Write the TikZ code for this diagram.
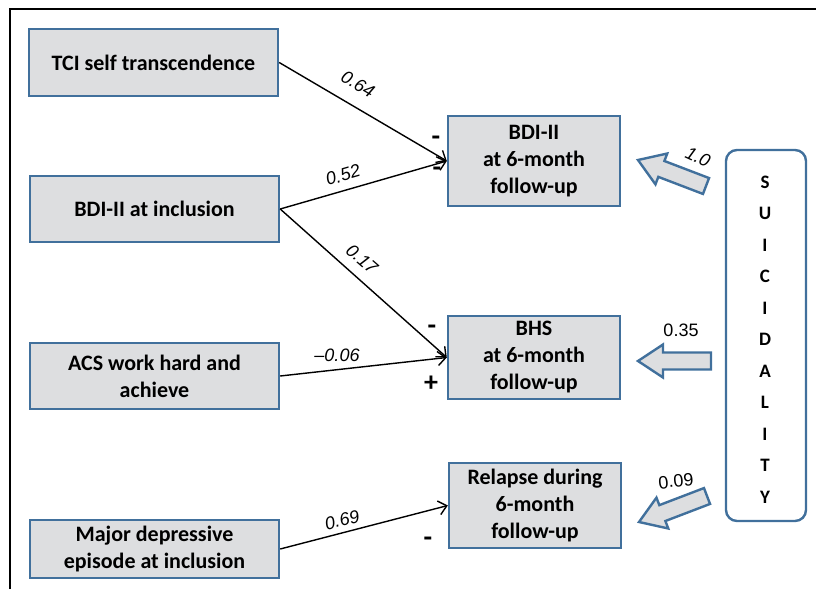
\documentclass[tikz,border=0pt]{standalone}
\usepackage{fontspec}
\setmainfont{Carlito}
\newfontfamily\arialf{Liberation Sans}
\usetikzlibrary{arrows.meta,calc}
\definecolor{boxfill}{HTML}{DDDEE0}
\definecolor{boxdraw}{HTML}{41709C}
\newcommand\blockarrow[2]{%
  \coordinate (ba0) at (#1);
  \coordinate (ba1) at (#2);
  \coordinate (bam) at ($(ba1)!25pt!(ba0)$);
  \draw[blk] ($(ba0)!8.5pt!90:(ba1)$) -- ($(bam)!8.5pt!90:(ba1)$) -- ($(bam)!16.5pt!90:(ba1)$)
    -- (ba1) -- ($(bam)!16.5pt!-90:(ba1)$) -- ($(bam)!8.5pt!-90:(ba1)$) -- ($(ba0)!8.5pt!-90:(ba1)$) -- cycle;}
\begin{document}
\begin{tikzpicture}[x=1pt,y=-1pt,
  box/.style={draw=boxdraw, fill=boxfill, line width=2.4pt, inner sep=0pt, align=center,
    font=\fontsize{22}{27}\selectfont\bfseries},
  conn/.style={line width=1.4pt, -{Straight Barb[length=8pt,width=14pt,line width=1.4pt]}},
  lbl/.style={font=\arialf\itshape\fontsize{18}{20}\selectfont, inner sep=0pt},
  lblu/.style={font=\arialf\fontsize{18}{20}\selectfont, inner sep=0pt},
  sgn/.style={font=\fontsize{28}{28}\selectfont\bfseries, inner sep=0pt},
  letter/.style={font=\fontsize{19}{19}\selectfont\bfseries, inner sep=0pt},
  blk/.style={draw=boxdraw, fill=boxfill, line width=2.4pt, line join=miter},
]
\useasboundingbox (0,0) rectangle (816,589);
\draw[line width=2.6pt] (10,589) -- (10,9) -- (816,9);

\node[box, minimum width=249pt, minimum height=67pt] (tci) at (153.5,62.5) {TCI self transcendence};
\node[box, minimum width=249pt, minimum height=66pt] (bdi) at (154.5,209) {BDI-II at inclusion};
\node[box, minimum width=249pt, minimum height=66pt] (acs) at (154.5,376) {ACS work hard and\\achieve};
\node[box, minimum width=249pt, minimum height=58pt] (mde) at (154.5,549) {Major depressive\\episode at inclusion};

\node[box, minimum width=172pt, minimum height=90pt] (bdi6) at (534,161) {BDI-II\\at 6-month\\follow-up};
\node[box, minimum width=172pt, minimum height=83pt] (bhs) at (534,357.5) {BHS\\at 6-month\\follow-up};
\node[box, minimum width=172pt, minimum height=85pt] (rel) at (535,505.5) {Relapse during\\6-month\\follow-up};

\node[draw=boxdraw, line width=2.4pt, rounded corners=11pt, minimum width=80pt, minimum height=371pt, fill=white] (sui) at (766,335.5) {};
\foreach \ch [count=\i] in {S,U,I,C,I,D,A,L,I,T,Y}
  \node[letter] (let\i) at (765,182+31.5*\i-31.5) {\ch};

\draw[conn] (tci.east) -- (bdi6.west);
\draw[conn] (bdi.east) -- (bdi6.west);
\draw[conn] (bdi.east) -- (bhs.west);
\draw[conn] (acs.east) -- (bhs.west);
\draw[conn] (mde.east) -- (rel.west);

\node[lbl, rotate=-30] (l1) at (358,84) {0.64};
\node[lbl, rotate=16] (l2) at (343,175) {0.52};
\node[lbl, rotate=-41] (l3) at (362,259) {0.17};
\node[lbl] (l4) at (337,355) {\textendash0.06};
\node[lbl, rotate=14] (l5) at (342,520) {0.69};

\node[sgn] (s1) at (436,141) {-};
\node[sgn] (s2) at (437,172) {-};
\node[sgn] (s3) at (432,330) {-};
\node[sgn] (s4) at (431,384) {+};
\node[sgn] (s5) at (428,542) {-};

\blockarrow{706,186}{638,160}
\blockarrow{711,361}{638,361}
\blockarrow{707,496}{639,522}

\node[lbl, rotate=-25] (l6) at (698,157) {1.0};
\node[lblu] (l7) at (681,330) {0.35};
\node[lblu, rotate=6] (l8) at (676,481) {0.09};
\end{tikzpicture}
\end{document}
